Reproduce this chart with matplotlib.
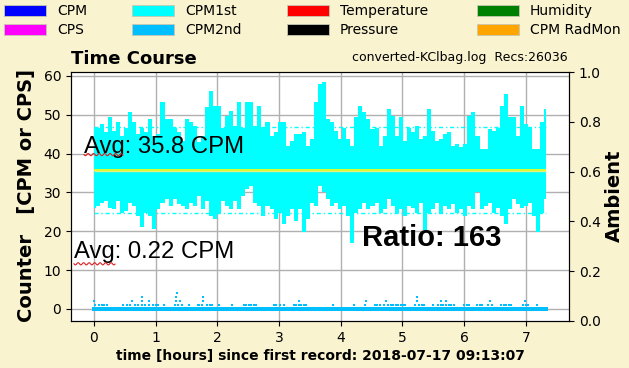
import numpy as np
import matplotlib
matplotlib.use('Agg')
import matplotlib.pyplot as plt
from matplotlib.patches import Patch

# ---------------- data ----------------
T_END = 7.33  # hours covered by the log

# CPM1st: envelope (max / min per time bin)
cpm1st_max = [46.7, 46.7, 47.6, 45.5, 49.3, 45.9, 48.0, 44.6, 46.7, 50.6, 48.0, 45.0, 46.7, 45.5, 48.9, 44.6, 45.0, 53.2, 48.9,
              48.9, 46.7, 45.5, 43.3, 48.9, 48.0, 47.2, 42.9, 44.6, 51.9, 56.2, 52.3, 52.3, 46.7, 49.7, 51.0, 47.2, 53.2, 46.7,
              53.2, 53.2, 47.2, 52.3, 46.7, 48.0, 44.6, 45.5, 48.0, 48.0, 42.0, 43.3, 45.0, 45.0, 45.5, 42.0, 43.7, 53.2, 57.9,
              58.3, 48.9, 48.0, 45.9, 43.7, 46.7, 43.7, 42.0, 49.3, 52.3, 50.6, 48.9, 46.3, 46.7, 42.0, 44.6, 51.5, 49.7, 44.6,
              49.3, 43.3, 46.7, 45.5, 47.2, 43.7, 44.6, 51.5, 45.9, 43.3, 43.7, 45.0, 45.5, 42.0, 42.4, 41.6, 42.4, 49.7, 50.6,
              44.6, 41.2, 41.2, 46.3, 45.9, 46.7, 52.3, 55.3, 49.3, 49.3, 44.6, 52.3, 47.6, 46.7, 41.2, 41.2, 48.0, 51.5]
cpm1st_min = [26.0, 26.6, 27.4, 27.9, 26.1, 25.7, 27.9, 24.8, 25.3, 27.4, 26.6, 24.0, 21.0, 24.8, 24.0, 20.6, 25.7, 27.4, 28.3,
              26.6, 28.3, 27.0, 26.6, 25.7, 27.4, 26.6, 29.1, 25.7, 27.9, 24.0, 23.1, 24.8, 27.9, 26.6, 25.7, 27.9, 25.7, 29.1,
              30.9, 31.7, 27.4, 26.6, 24.0, 26.6, 25.7, 23.1, 24.8, 21.8, 24.0, 25.7, 22.7, 25.7, 19.7, 23.1, 27.4, 26.6, 31.7,
              30.0, 28.3, 26.6, 27.4, 25.7, 26.6, 24.0, 17.0, 24.8, 25.7, 27.4, 25.7, 26.6, 27.4, 24.8, 25.7, 28.3, 26.6, 24.8,
              25.7, 24.0, 26.6, 26.1, 24.8, 27.4, 20.4, 24.8, 25.7, 27.4, 24.8, 26.6, 25.7, 27.0, 24.8, 25.7, 24.0, 26.6, 25.7,
              30.0, 25.7, 26.6, 27.4, 24.8, 26.1, 24.0, 21.8, 25.7, 28.3, 27.0, 26.1, 26.6, 27.4, 24.0, 19.7, 24.8, 28.3]
cpm1st_avg = 35.8
cpm1st_band = [46.9, 24.7]

# CPM2nd: mostly zero; non-zero readings (time [h], value)
cpm2nd_t = [0.00, 0.02, 0.09, 0.13, 0.17, 0.21, 0.48, 0.53, 0.59, 0.62, 0.66, 0.71, 0.78, 0.78, 0.78, 0.83, 0.89, 0.89,
            0.96, 1.00, 1.04, 1.14, 1.32, 1.33, 1.33, 1.34, 1.37, 1.40, 1.43, 1.54, 1.68, 1.71, 1.76, 1.77, 1.77,
            1.84, 1.88, 1.91, 2.03, 2.24, 2.43, 2.47, 2.51, 2.55, 2.59, 2.63, 2.92, 2.96, 3.01, 3.08,
            3.24, 3.28, 3.32, 3.32, 3.36, 3.40, 3.44, 3.88, 4.22, 4.39, 4.41, 4.55, 4.59, 4.63, 4.70, 4.73, 4.76,
            4.81, 4.85, 4.89, 4.93, 4.97, 5.01, 5.05, 5.21, 5.23, 5.23, 5.27, 5.31, 5.35, 5.49,
            5.58, 5.62, 5.62, 5.66, 5.70, 5.71, 5.75, 5.79, 5.83, 6.00, 6.04, 6.08, 6.21, 6.25, 6.29,
            6.39, 6.42, 6.45, 6.60, 6.64, 6.68, 6.72, 6.76, 6.96, 6.99, 7.00, 7.04, 7.18]
cpm2nd_v = [2, 1, 1, 1, 1, 1, 1, 1, 1, 2, 1, 1, 1, 2, 3, 1, 1, 2,
            1, 1, 1, 1, 1, 2, 3, 4, 1, 2, 1, 1, 1, 1, 1, 2, 3,
            1, 1, 1, 1, 1, 1, 1, 1, 1, 1, 1, 1, 1, 1, 1,
            1, 1, 2, 1, 1, 1, 1, 1, 1, 1, 2, 1, 1, 1, 1, 2, 1,
            1, 1, 1, 1, 1, 1, 1, 1, 2, 3, 1, 1, 1, 1,
            1, 2, 1, 1, 2, 1, 1, 1, 1, 1, 1, 1, 1, 1, 1,
            1, 2, 1, 1, 1, 1, 1, 1, 1, 2, 1, 1, 1]
cpm2nd_avg = 0.22
ratio = 163

legend_labels = ['CPM', 'CPS', 'CPM1st', 'CPM2nd', 'Temperature', 'Pressure', 'Humidity', 'CPM RadMon']
legend_colors = ['blue', 'magenta', 'cyan', 'deepskyblue', 'red', 'black', 'green', 'orange']

title_left = 'Time Course'
title_right = 'converted-KClbag.log  Recs:26036'
xlabel = 'time [hours] since first record: 2018-07-17 09:13:07'
ylabel_left = 'Counter   [CPM or CPS]'
ylabel_right = 'Ambient'

# ---------------- figure ----------------
W, H = 629, 368
BG = '#F9F3D0'
fig = plt.figure(figsize=(W / 100, H / 100), dpi=100, facecolor=BG)
ax = fig.add_axes([71 / W, 47 / H, 498 / W, 249 / H])
ax.set_facecolor('white')

t1 = np.linspace(0, T_END, len(cpm1st_max))
ax.fill_between(t1, cpm1st_min, cpm1st_max, step='mid', color='cyan', lw=0, zorder=2)
for y in cpm1st_band:
    ax.hlines(y, 0, T_END, colors='cyan', linestyles=(0, (3, 2, 1, 2)), lw=1.0, zorder=3)
ax.hlines(cpm1st_avg, 0, T_END, colors='yellow', lw=1.2, zorder=4)
ax.hlines(cpm1st_avg - 0.4, 0, T_END, colors='#e4ee80', lw=1.0, zorder=4)

# CPM2nd
t0 = np.linspace(0, T_END, 700)
ax.plot(t0, np.zeros_like(t0), 's', ms=2.2, mew=0, color='deepskyblue', zorder=3)
ax.plot(cpm2nd_t, cpm2nd_v, 's', ms=1.8, mew=0, color='deepskyblue', zorder=3)

ax.set_xlim(-0.37, 7.70)
ax.set_ylim(-3.1, 61.0)
ax.set_xticks(range(0, 8))
ax.set_yticks(range(0, 61, 10))
ax.grid(True, color='#b0b0b0', lw=1.0, zorder=0)
ax.set_axisbelow(True)
ax.tick_params(labelsize=10)

ax2 = ax.twinx()
ax2.set_ylim(0, 1)
ax2.set_yticks([0, 0.2, 0.4, 0.6, 0.8, 1.0])
ax2.tick_params(labelsize=10)

# texts
lib = 'Liberation Sans'
ax.text(0.026, 0.70, f'Avg: {cpm1st_avg:.1f} CPM', transform=ax.transAxes, ha='left', va='center',
        fontsize=17.2, family=lib, zorder=6)
ax.text(0.006, 0.277, f'Avg: {cpm2nd_avg:.2f} CPM', transform=ax.transAxes, ha='left', va='center',
        fontsize=17.2, family=lib, zorder=6)
ax.text(0.725, 0.333, f'Ratio: {ratio}', transform=ax.transAxes, ha='center', va='center',
        fontsize=21, family=lib, fontweight='bold', zorder=6)

# red wavy underline under "Avg" (spell-check squiggle in the original)
def squiggle(x0, x1, yc):
    xs = np.linspace(x0, x1, 80)
    ys = yc + 1.1 * np.sin((xs - x0) / 5.5 * 2 * np.pi)
    fig.add_artist(plt.Line2D(xs / W, 1 - ys / H, color='#dd2020', lw=0.8, transform=fig.transFigure))
squiggle(84, 123, 154.6)
squiggle(74, 115, 263.8)

fig.text(71 / W, 1 - 59 / H, title_left, ha='left', va='center', fontsize=13, fontweight='bold')
fig.text(568 / W, 1 - 58 / H, title_right, ha='right', va='center', fontsize=9)
fig.text(320 / W, 1 - 356 / H, xlabel, ha='center', va='center', fontsize=10, fontweight='bold')
fig.text(27 / W, 1 - 195 / H, ylabel_left, ha='center', va='center', rotation=90, fontsize=14, fontweight='bold')
fig.text(614 / W, 1 - 196 / H, ylabel_right, ha='center', va='center', rotation=90, fontsize=14, fontweight='bold')

# legend: 4 columns of 2 entries each
col_x = [4, 132, 287, 477]
for c in range(4):
    handles = [Patch(facecolor=legend_colors[2 * c + r], edgecolor='#c8c8b0', lw=0.6) for r in range(2)]
    fig.legend(handles, legend_labels[2 * c:2 * c + 2], loc='upper left',
               bbox_to_anchor=(col_x[c] / W, 1 - 4 / H), frameon=False, fontsize=10,
               borderpad=0, borderaxespad=0, handlelength=3.0, handleheight=0.85,
               handletextpad=0.8, labelspacing=0.37)

fig.savefig('out.png', dpi=100, facecolor=BG)
